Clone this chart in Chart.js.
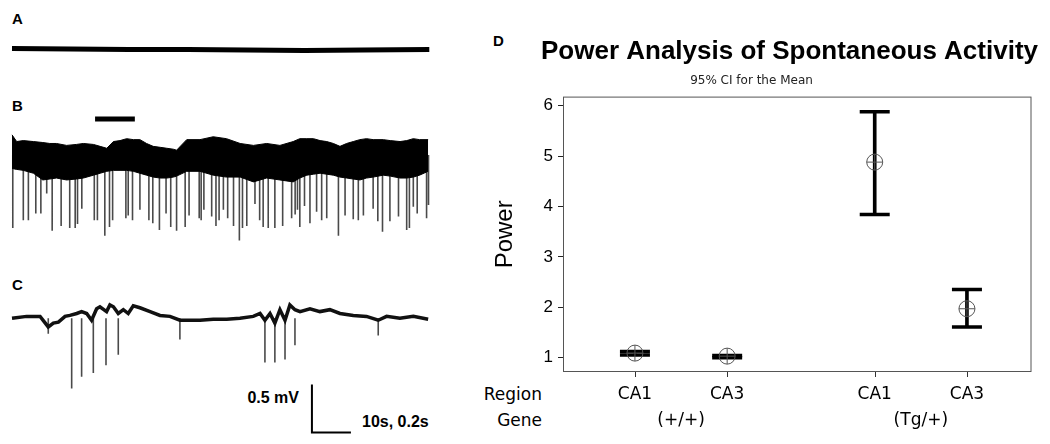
<!DOCTYPE html>
<html>
<head>
<meta charset="utf-8">
<script src="https://cdn.jsdelivr.net/npm/chart.js@4.4.0/dist/chart.umd.min.js"></script>
<style>
  html, body { margin: 0; padding: 0; background: #fff; overflow: hidden; }
  #wrap { position: relative; width: 1050px; height: 444px; }
  canvas { position: absolute; }
  .lbl { position: absolute; font-family: "Liberation Sans", Arial, sans-serif; font-weight: bold; color: #000; line-height: 1; white-space: nowrap; }
  .row { position: absolute; font-family: "DejaVu Sans", sans-serif; font-size: 17px; line-height: 20px; color: #000; text-align: right; white-space: nowrap; }
</style>
</head>
<body>
<div id="wrap">
  <div class="lbl" style="left:12px;top:11px;font-size:15px">A</div>
  <div class="lbl" style="left:12px;top:98px;font-size:15px">B</div>
  <div class="lbl" style="left:12px;top:277px;font-size:15px">C</div>
  <div class="lbl" style="left:493px;top:33px;font-size:15px">D</div>
  <div class="lbl" style="right:751px;top:390px;font-size:16px">0.5 mV</div>
  <div class="lbl" style="left:362px;top:414px;font-size:16px">10s, 0.2s</div>
  <div class="row" style="right:508px;top:384px">Region</div>
  <div class="row" style="right:508px;top:410px">Gene</div>

  <canvas id="js--trace-a" width="440" height="40" style="left:0;top:30px"></canvas>
  <canvas id="js--trace-b" width="440" height="140" style="left:0;top:110px"></canvas>
  <canvas id="js--trace-c" width="440" height="154" style="left:0;top:290px"></canvas>
  <canvas id="js--chart-d" width="585" height="444" style="left:465px;top:0"></canvas>
</div>

<script>
// traces A and B: time in s, voltage in mV
const tA = [0, 15, 30, 45, 60, 75, 90, 107];
const vA = [0.01, 0.005, 0.0, 0.0, -0.005, -0.01, -0.005, 0.0];

const tB = [0, 1.2, 2.9, 5.5, 7.9, 9.7, 11.4, 14.0, 16.5, 18.3, 20.9, 22.6, 24.3, 26.0, 27.7,
  29.4, 31.1, 32.8, 34.5, 36.2, 38.0, 39.7, 41.4, 42.2, 44.8, 48.2, 51.6, 55.0, 58.5, 61.9,
  65.3, 68.7, 72.1, 73.8, 75.6, 77.3, 79.0, 80.7, 82.4, 84.1, 85.8, 87.5, 89.2, 90.9, 92.6,
  95.2, 97.0, 99.5, 101.2, 102.9, 104.5, 106.7];
const upperB = [0.21, 0.14, 0.15, 0.14, 0.13, 0.12, 0.12, 0.10, 0.11, 0.12, 0.11, 0.09, 0.07, 0.14, 0.15,
  0.17, 0.16, 0.16, 0.12, 0.09, 0.08, 0.07, 0.06, 0.05, 0.16, 0.16, 0.19, 0.17, 0.12, 0.10,
  0.12, 0.10, 0.14, 0.17, 0.17, 0.17, 0.15, 0.14, 0.12, 0.09, 0.12, 0.14, 0.16, 0.17, 0.16,
  0.16, 0.15, 0.14, 0.15, 0.17, 0.16, 0.16];
const lowerB = [-0.14, -0.15, -0.16, -0.19, -0.26, -0.25, -0.24, -0.26, -0.25, -0.24, -0.21, -0.19, -0.17, -0.16, -0.16,
  -0.16, -0.17, -0.19, -0.21, -0.23, -0.24, -0.24, -0.23, -0.22, -0.17, -0.17, -0.21, -0.23, -0.23, -0.28,
  -0.24, -0.26, -0.28, -0.24, -0.21, -0.20, -0.19, -0.20, -0.21, -0.23, -0.24, -0.25, -0.26, -0.24, -0.23,
  -0.21, -0.22, -0.24, -0.24, -0.23, -0.21, -0.17];

const spikeTimesB = [0.2, 2.9, 4.2, 6.1, 7.4, 8.9, 10.3, 12.6, 14.8, 16.2, 16.8, 17.9, 21.1, 21.9, 23.8,
  25.0, 25.8, 29.2, 29.8, 30.9, 32.8, 35.1, 36.1, 37.8, 39.5, 40.7, 42.2, 44.4, 45.4, 48.0,
  48.5, 49.2, 51.2, 52.3, 53.1, 54.2, 55.3, 56.8, 58.3, 59.1, 60.2, 62.3, 63.5, 64.4, 65.7,
  67.4, 69.4, 71.7, 72.6, 73.2, 73.8, 75.0, 76.4, 78.1, 79.4, 80.7, 83.7, 85.4, 87.5, 88.8,
  90.1, 92.6, 93.8, 95.0, 96.9, 99.1, 101.2, 101.9, 102.9, 103.9, 106.3, 106.8];
const spikeTipsB = [-0.76, -0.68, -0.68, -0.61, -0.61, -0.40, -0.79, -0.74, -0.76, -0.76, -0.72, -0.56, -0.68, -0.68, -0.84,
  -0.75, -0.68, -0.66, -0.63, -0.68, -0.57, -0.68, -0.71, -0.78, -0.61, -0.75, -0.79, -0.75, -0.63, -0.66,
  -0.68, -0.57, -0.64, -0.74, -0.68, -0.57, -0.66, -0.74, -0.89, -0.76, -0.74, -0.51, -0.68, -0.75, -0.76,
  -0.76, -0.74, -0.66, -0.62, -0.57, -0.75, -0.53, -0.71, -0.59, -0.68, -0.66, -0.84, -0.63, -0.67, -0.68,
  -0.63, -0.56, -0.69, -0.80, -0.69, -0.64, -0.78, -0.76, -0.54, -0.61, -0.66, -0.52];

// segment of B expanded in C (10 s)
const markerB = [21.3, 31.5];
const markerLevelB = 0.375;

// trace C: time in ms, voltage in mV
const tC = [0, 75, 144, 186, 212, 238, 272, 297, 332, 357, 383, 408, 434, 451, 485, 502, 520, 545, 571,
  596, 622, 656, 708, 759, 810, 861, 896, 964, 1032, 1101, 1169, 1237, 1272, 1297, 1323, 1348,
  1374, 1400, 1425, 1451, 1477, 1528, 1579, 1630, 1682, 1750, 1818, 1878, 1921, 1989, 2058, 2134];
const vC = [0.0, 0.02, 0.02, -0.09, -0.05, -0.04, 0.02, 0.03, 0.05, 0.07, 0.05, -0.02, 0.10, 0.12, 0.07, 0.14, 0.12, 0.05, 0.09,
  0.05, 0.13, 0.11, 0.07, 0.03, 0.02, -0.02, -0.02, -0.02, -0.01, -0.01, 0.0, 0.02, 0.05, -0.02, 0.05, -0.05,
  0.09, -0.02, 0.14, 0.09, 0.07, 0.10, 0.07, 0.09, 0.05, 0.03, 0.02, -0.02, 0.02, 0.0, 0.02, -0.01];
const spikeTimesC = [186, 306, 357, 417, 482, 545, 861, 1297, 1348, 1400, 1451, 1878];
const spikeTipsC = [-0.16, -0.73, -0.61, -0.57, -0.49, -0.38, -0.22, -0.46, -0.46, -0.43, -0.28, -0.18];

// scale bar: 0.5 mV by 0.2 s (drawn in C units)
const scaleBarT = [1538, 1538, 1738];
const scaleBarV = [-0.69, -1.19, -1.19];

// D: interval plot
const xPos = [1, 2, 3.6, 4.6];
const regionLabels = ["CA1", "CA3", "CA1", "CA3"];
const genePos = [1.5, 4.1];
const geneLabels = ["(+/+)", "(Tg/+)"];
const means = [1.09, 1.03, 4.88, 1.97];
const ciLow = [1.05, 1.0, 3.84, 1.61];
const ciHigh = [1.12, 1.04, 5.88, 2.35];
const yTicks = [1, 2, 3, 4, 5, 6];

function points(xs, ys) {
  return xs.map((x, i) => ({ x: x, y: ys[i] }));
}

function spikeLines(times, tips) {
  const pts = [];
  times.forEach((t, i) => {
    pts.push({ x: t, y: 0 }, { x: t, y: tips[i] }, { x: t, y: null });
  });
  return pts;
}

function traceChart(id, datasets, xMin, xMax, yMin, yMax) {
  return new Chart(document.getElementById(id), {
    type: "line",
    data: { datasets: datasets },
    options: {
      responsive: false,
      animation: false,
      events: [],
      layout: { padding: 0 },
      elements: { point: { radius: 0 }, line: { tension: 0, borderCapStyle: "butt" } },
      plugins: { legend: { display: false }, tooltip: { enabled: false } },
      scales: {
        x: { type: "linear", display: false, min: xMin, max: xMax },
        y: { type: "linear", display: false, min: yMin, max: yMax },
      },
    },
  });
}

// 39 px = 10 s (A, B) = 200 ms (C); 96 px = 1 mV
traceChart("js--trace-a", [
  { data: points(tA, vA), borderColor: "#000", borderWidth: 5 },
], -12 / 3.9, 428 / 3.9, -20.5 / 96, 19.5 / 96);

traceChart("js--trace-b", [
  { data: points(tB, upperB), borderColor: "#000", borderWidth: 1, backgroundColor: "#000", fill: "+1", order: 1 },
  { data: points(tB, lowerB), borderColor: "#000", borderWidth: 1, order: 1 },
  { data: spikeLines(spikeTimesB, spikeTipsB), borderColor: "#4a4a4a", borderWidth: 1.6, spanGaps: false, order: 2 },
  { data: points(markerB, [markerLevelB, markerLevelB]), borderColor: "#000", borderWidth: 5, order: 0 },
], -12 / 3.9, 428 / 3.9, -95 / 96, 45 / 96);

traceChart("js--trace-c", [
  { data: points(tC, vC), borderColor: "#111", borderWidth: 3.5, order: 1 },
  { data: spikeLines(spikeTimesC, spikeTipsC), borderColor: "#4a4a4a", borderWidth: 1.6, spanGaps: false, order: 2 },
  { data: points(scaleBarT, scaleBarV), borderColor: "#000", borderWidth: 2, borderJoinStyle: "miter", order: 0 },
], -12 * 5.128, 428 * 5.128, -125.7 / 96, 28.3 / 96);

// frame round the plot area plus the category tick marks under it
const boxPlugin = {
  id: "box",
  beforeDatasetsDraw(chart) {
    const a = chart.chartArea;
    const ctx = chart.ctx;
    const xs = chart.scales.x;
    ctx.save();
    ctx.strokeStyle = "#555";
    ctx.lineWidth = 1;
    ctx.strokeRect(a.left + 0.5, a.top + 0.5, a.right - a.left - 1, a.bottom - a.top - 1);
    ctx.strokeStyle = "#333";
    ctx.beginPath();
    xs.ticks.forEach((t) => {
      const px = Math.round(xs.getPixelForValue(t.value)) + 0.5;
      ctx.moveTo(px, a.bottom);
      ctx.lineTo(px, a.bottom + 5);
    });
    ctx.stroke();
    ctx.restore();
  },
};

const caps = [];
xPos.forEach((x, i) => {
  caps.push({ x: x, y: ciLow[i] }, { x: x, y: ciHigh[i] });
});

new Chart(document.getElementById("js--chart-d"), {
  type: "scatter",
  data: {
    datasets: [
      {
        type: "bar",
        data: xPos.map((x, i) => ({ x: x, y: [ciLow[i], ciHigh[i]] })),
        backgroundColor: "#000",
        barThickness: 3,
        order: 3,
      },
      { data: caps, pointStyle: "line", pointRadius: 15, borderWidth: 3.5, borderColor: "#000", order: 2 },
      { data: points(xPos, means), pointStyle: "circle", pointRadius: 8, borderWidth: 1, borderColor: "#555", backgroundColor: "rgba(0,0,0,0)", order: 1 },
      { data: points(xPos, means), pointStyle: "cross", pointRadius: 8, borderWidth: 1, borderColor: "#555", order: 0 },
    ],
  },
  options: {
    responsive: false,
    animation: false,
    events: [],
    layout: { padding: { left: 0, right: 12, top: 0, bottom: 0 } },
    plugins: {
      legend: { display: false },
      tooltip: { enabled: false },
      title: {
        display: true,
        text: "Power Analysis of Spontaneous Activity",
        align: "end",
        color: "#000",
        font: { family: "'Liberation Sans', Arial, sans-serif", size: 26, weight: "bold" },
        padding: { top: 36, bottom: 0 },
      },
      subtitle: {
        display: true,
        text: "95% CI for the Mean",
        color: "#222",
        font: { family: "'DejaVu Sans', sans-serif", size: 12 },
        padding: { top: 6, bottom: 9 },
      },
    },
    scales: {
      x: {
        type: "linear",
        min: 0.22,
        max: 5.3,
        offset: false,
        afterBuildTicks: (s) => { s.ticks = xPos.map((v) => ({ value: v })); },
        afterFit: (s) => { s.height = 36; },
        ticks: {
          callback: (v, i) => regionLabels[i],
          color: "#000",
          font: { family: "'DejaVu Sans', sans-serif", size: 17 },
          padding: 7,
          autoSkip: false,
          maxRotation: 0,
        },
        grid: { display: false, drawTicks: true, tickLength: 5 },
        border: { display: false },
      },
      x2: {
        type: "linear",
        position: "bottom",
        weight: 1,
        min: 0.22,
        max: 5.3,
        afterBuildTicks: (s) => { s.ticks = genePos.map((v) => ({ value: v })); },
        afterFit: (s) => { s.height = 36; },
        ticks: {
          callback: (v, i) => geneLabels[i],
          color: "#000",
          font: { family: "'DejaVu Sans', sans-serif", size: 17 },
          padding: 2,
          autoSkip: false,
          maxRotation: 0,
        },
        grid: { display: false, drawTicks: false },
        border: { display: false },
      },
      y: {
        type: "linear",
        min: 0.715,
        max: 6.18,
        beginAtZero: false,
        afterBuildTicks: (s) => { s.ticks = yTicks.map((v) => ({ value: v })); },
        afterFit: (s) => { s.width = 98; },
        ticks: {
          color: "#000",
          font: { family: "'Liberation Sans', Arial, sans-serif", size: 17 },
          padding: 5,
        },
        grid: { drawOnChartArea: false, tickLength: 5, color: "#222" },
        border: { display: false },
        title: {
          display: true,
          text: "Power",
          color: "#000",
          font: { family: "'Liberation Sans', Arial, sans-serif", size: 24 },
          padding: { top: 26, bottom: 0 },
        },
      },
    },
  },
  plugins: [boxPlugin],
});
</script>
</body>
</html>
